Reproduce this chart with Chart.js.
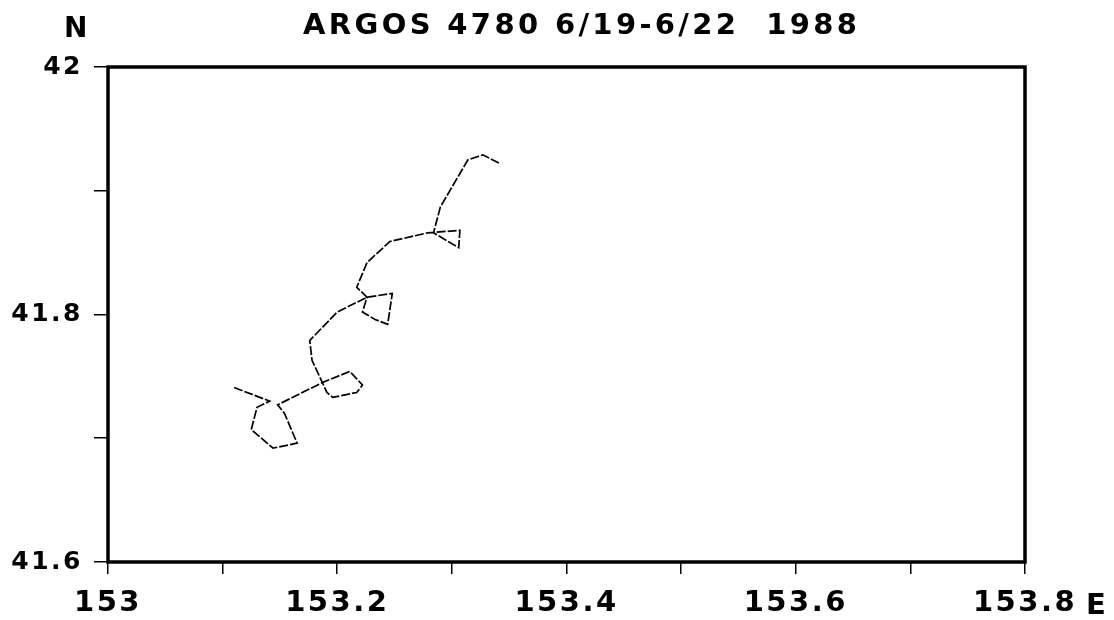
<!DOCTYPE html>
<html>
<head>
<meta charset="utf-8">
<script src="https://cdn.jsdelivr.net/npm/chart.js@4/dist/chart.umd.min.js"></script>
<style>
  html, body { margin: 0; padding: 0; background: #fff; }
  #wrap { width: 1114px; height: 620px; position: relative; }
</style>
</head>
<body>
<div id="wrap"><canvas id="myChart"></canvas></div>
<script>
// drifter track (deg E / deg N)
var lon = [153.110, 153.141, 153.130, 153.125, 153.144, 153.165, 153.154, 153.148,
           153.187, 153.211, 153.222, 153.217, 153.196, 153.191, 153.178, 153.176,
           153.200, 153.226, 153.248, 153.244, 153.233, 153.222, 153.226, 153.217,
           153.226, 153.246, 153.279, 153.307, 153.306, 153.284, 153.290, 153.314,
           153.327, 153.342];
var lat = [41.741, 41.730, 41.725, 41.707, 41.692, 41.696, 41.720, 41.727,
           41.745, 41.754, 41.743, 41.737, 41.733, 41.737, 41.763, 41.779,
           41.802, 41.814, 41.817, 41.792, 41.796, 41.802, 41.814, 41.822,
           41.842, 41.859, 41.866, 41.868, 41.854, 41.866, 41.887, 41.925,
           41.929, 41.922];

var xTickLabels = ['153', '153.2', '153.4', '153.6', '153.8'];
var yTickLabels = ['41.6', '41.8', '42'];
var titleText = 'ARGOS 4780 6/19-6/22  1988';

var pts = lon.map(function(x, i) { return {x: x, y: lat[i]}; });
var FONT = '"DejaVu Sans", "Liberation Sans", sans-serif';

function fmt(v) { return (Math.round(v * 10) / 10).toString(); }

var spacing = {
  id: 'spacing',
  beforeUpdate: function(chart) { chart.ctx.letterSpacing = '2.5px'; },
  beforeDraw: function(chart) { chart.ctx.letterSpacing = '2.5px'; }
};

var frame = {
  id: 'frame',
  afterDraw: function(chart) {
    var ctx = chart.ctx, a = chart.chartArea;
    ctx.save();
    ctx.letterSpacing = '0px';
    ctx.strokeStyle = '#000';
    ctx.lineWidth = 3.5;
    ctx.strokeRect(a.left, a.top, a.right - a.left, a.bottom - a.top);

    ctx.fillStyle = '#000';
    ctx.font = 'bold 29px ' + FONT;
    ctx.textBaseline = 'alphabetic';
    ctx.textAlign = 'left';
    var w0 = ctx.measureText(titleText).width;
    var sp = (554 - w0) / (titleText.length - 1);
    ctx.letterSpacing = sp + 'px';
    ctx.fillText(titleText, 303, 34);

    ctx.letterSpacing = '0px';
    ctx.font = 'bold 28px ' + FONT;
    ctx.fillText('N', 64, 37);
    ctx.font = 'bold 29px ' + FONT;
    ctx.fillText('E', 1086, 614);
    ctx.restore();
  }
};

var config = {
  type: 'scatter',
  data: {
    datasets: [{
      data: pts,
      showLine: true,
      borderColor: '#000',
      borderWidth: 1.7,
      borderDash: [9, 2],
      pointRadius: 0,
      tension: 0
    }]
  },
  options: {
    animation: false,
    responsive: true,
    maintainAspectRatio: false,
    layout: { padding: { top: 67, right: 89, left: 0, bottom: 0 } },
    plugins: { legend: { display: false }, tooltip: { enabled: false } },
    scales: {
      x: {
        type: 'linear',
        min: 153, max: 153.8,
        afterFit: function(s) { s.height = 58; },
        border: { display: false },
        grid: { drawOnChartArea: false, drawTicks: true, tickLength: 12, color: '#000', lineWidth: 1.5 },
        ticks: {
          stepSize: 0.1,
          padding: 12,
          color: '#000',
          maxRotation: 0,
          autoSkip: false,
          font: { family: FONT, size: 29, weight: 'bold' },
          callback: function(v) {
            var s = fmt(v);
            return xTickLabels.indexOf(s) >= 0 ? s : '';
          }
        }
      },
      y: {
        type: 'linear',
        min: 41.6, max: 42,
        afterFit: function(s) { s.width = 108; },
        border: { display: false },
        grid: { drawOnChartArea: false, drawTicks: true, tickLength: 14, color: '#000', lineWidth: 1.5 },
        ticks: {
          stepSize: 0.1,
          padding: 11,
          color: '#000',
          autoSkip: false,
          font: { family: FONT, size: 25, weight: 'bold' },
          callback: function(v) {
            var s = fmt(v);
            return yTickLabels.indexOf(s) >= 0 ? s : '';
          }
        }
      }
    }
  },
  plugins: [spacing, frame]
};

window.onload = function() {
  var ctx = document.getElementById('myChart').getContext('2d');
  window.myChart = new Chart(ctx, config);
};
</script>
</body>
</html>
